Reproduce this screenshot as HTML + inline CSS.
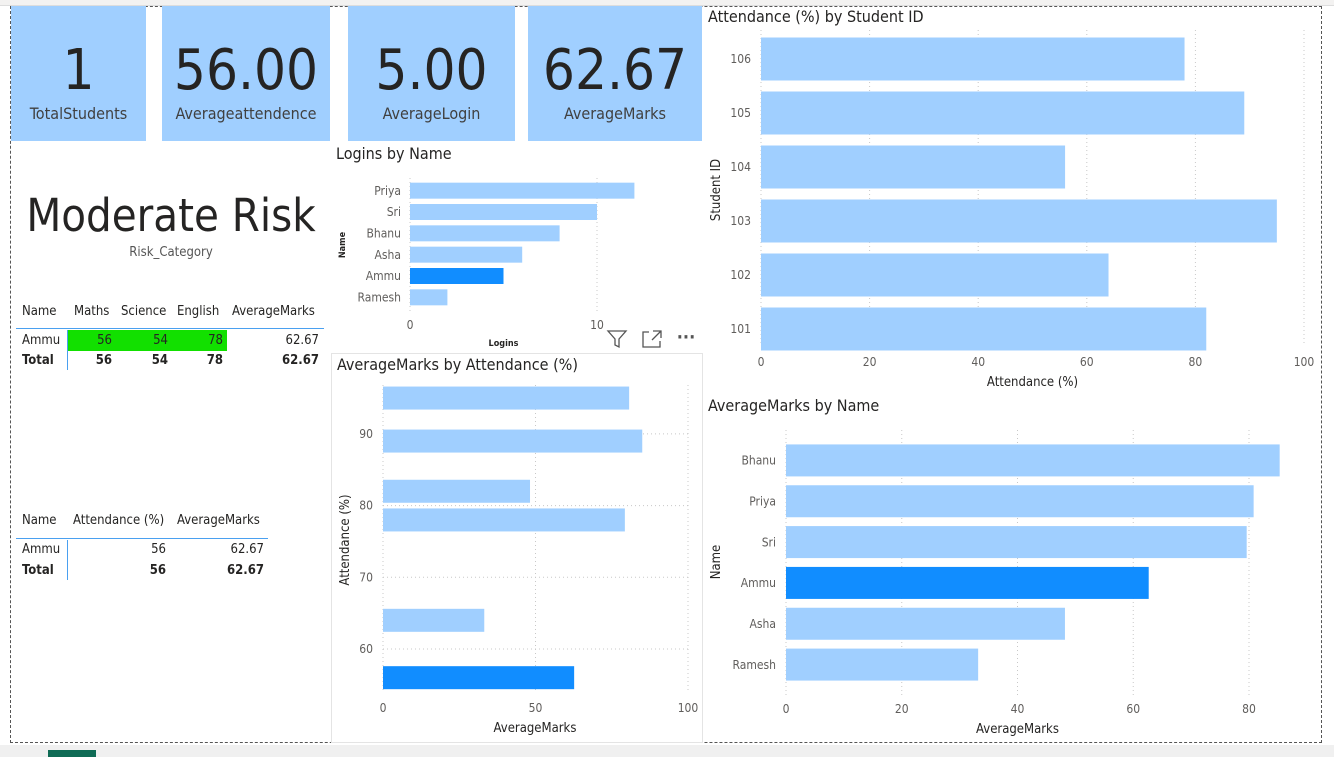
<!DOCTYPE html>
<html><head><meta charset="utf-8">
<style>
body{margin:0;width:1334px;height:757px;overflow:hidden;background:#fff;font-family:"DejaVu Sans Condensed","Liberation Sans Narrow","Liberation Sans",sans-serif;color:#252423;position:relative}
.abs{position:absolute}
.card{position:absolute;top:6px;height:135px;background:#a0cfff;text-align:center}
.card .num{position:absolute;left:0;right:0;top:33px;font-size:56px;line-height:64px;color:#252423;font-weight:500}
.card .lbl{position:absolute;left:0;right:0;top:98px;font-size:16px;color:#404040}
.t{position:absolute;font-size:13px;white-space:nowrap}
.r{text-align:right}
.b{font-weight:bold}
svg text{font-family:"DejaVu Sans Condensed","Liberation Sans Narrow","Liberation Sans",sans-serif}
</style></head><body>
<div class="abs" style="left:0;top:0;width:1334px;height:5px;background:#f3f2f1;border-bottom:1px solid #ddd"></div>
<div class="abs" style="left:10px;top:6px;width:1310px;height:735px;border:1px dashed #555"></div>
<div class="abs" style="left:0;top:745px;width:1334px;height:12px;background:#f0f0f0"></div>
<div class="abs" style="left:48px;top:750px;width:48px;height:7px;background:#0f6b55"></div>

<div class="card" style="left:11px;width:135px"><div class="num">1</div><div class="lbl">TotalStudents</div></div>
<div class="card" style="left:162px;width:168px"><div class="num">56.00</div><div class="lbl">Averageattendence</div></div>
<div class="card" style="left:348px;width:167px"><div class="num">5.00</div><div class="lbl">AverageLogin</div></div>
<div class="card" style="left:528px;width:174px"><div class="num">62.67</div><div class="lbl">AverageMarks</div></div>

<div class="abs" style="left:11px;width:320px;top:189px;text-align:center;font-size:45px;line-height:54px">Moderate Risk</div>
<div class="abs" style="left:11px;width:320px;top:245px;text-align:center;font-size:13px;color:#555">Risk_Category</div>

<div>
<div class="t" style="left:22px;top:304px">Name</div>
<div class="t" style="left:74px;top:304px">Maths</div>
<div class="t" style="left:121px;top:304px">Science</div>
<div class="t" style="left:177px;top:304px">English</div>
<div class="t" style="left:232px;top:304px">AverageMarks</div>
<div class="abs" style="left:16px;top:328px;width:308px;height:1px;background:#4aa0f0"></div>
<div class="abs" style="left:67px;top:330px;width:160px;height:21px;background:#12e000"></div>
<div class="abs" style="left:67px;top:330px;width:1px;height:40px;background:#4aa0f0"></div>
<div class="t" style="left:22px;top:333px">Ammu</div>
<div class="t r" style="left:67px;width:45px;top:333px">56</div>
<div class="t r" style="left:116px;width:52px;top:333px">54</div>
<div class="t r" style="left:172px;width:51px;top:333px">78</div>
<div class="t r" style="left:227px;width:92px;top:333px">62.67</div>
<div class="t b" style="left:22px;top:353px">Total</div>
<div class="t r b" style="left:67px;width:45px;top:353px">56</div>
<div class="t r b" style="left:116px;width:52px;top:353px">54</div>
<div class="t r b" style="left:172px;width:51px;top:353px">78</div>
<div class="t r b" style="left:227px;width:92px;top:353px">62.67</div>
</div>
<div>
<div class="t" style="left:22px;top:513px">Name</div>
<div class="t" style="left:73px;top:513px">Attendance (%)</div>
<div class="t" style="left:177px;top:513px">AverageMarks</div>
<div class="abs" style="left:16px;top:538px;width:252px;height:1px;background:#4aa0f0"></div>
<div class="abs" style="left:67px;top:540px;width:1px;height:40px;background:#4aa0f0"></div>
<div class="t" style="left:22px;top:542px">Ammu</div>
<div class="t r" style="left:67px;width:99px;top:542px">56</div>
<div class="t r" style="left:166px;width:98px;top:542px">62.67</div>
<div class="t b" style="left:22px;top:563px">Total</div>
<div class="t r b" style="left:67px;width:99px;top:563px">56</div>
<div class="t r b" style="left:166px;width:98px;top:563px">62.67</div>
</div>

<div class="abs" style="left:331px;top:353px;width:370px;height:388px;border:1px solid #e4e4e4"></div>

<svg id="s" class="abs" style="left:0;top:0" width="1334" height="757"></svg>

<script>
// Logins by Name
const loginNames=["Priya","Sri","Bhanu","Asha","Ammu","Ramesh"];
const loginValues=[12,10,8,6,5,2];
const loginTicks=[0,10];
// Attendance by Student ID
const studentIds=["106","105","104","103","102","101"];
const attendanceValues=[78,89,56,95,64,82];
const attendanceTicks=[0,20,40,60,80,100];
// AverageMarks by Attendance
const attCats=[95,89,82,78,64,56];
const attMarks=[80.7,85,48.2,79.3,33.2,62.67];
const attXTicks=[0,50,100];
const attYTicks=[60,70,80,90];
// AverageMarks by Name
const markNames=["Bhanu","Priya","Sri","Ammu","Asha","Ramesh"];
const markValues=[85.3,80.8,79.6,62.67,48.2,33.2];
const markTicks=[0,20,40,60,80];
const highlight="Ammu";

const S=document.getElementById('s');
const NS="http://www.w3.org/2000/svg";
function mk(tag,a,txt){const e=document.createElementNS(NS,tag);for(const k in a)e.setAttribute(k,a[k]);if(txt!==undefined)e.textContent=txt;S.appendChild(e);return e;}
const LIGHT="#a0cfff",DARK="#118dff",GRID="#c8c8c8",TXT="#605e5c";

function hbar(o){
  const x=v=>o.x0+(v-o.min)/(o.max-o.min)*(o.x1-o.x0);
  const t=mk('text',{x:o.tx,y:o.ty,'font-size':o.tfs,fill:'#252423'},o.title);
  
  
  o.ticks.forEach(v=>{
    const g=mk('line',{x1:x(v),x2:x(v),y1:o.gTop,y2:o.gBot,stroke:GRID,'stroke-dasharray':'1,3'});
    
    
    const l=mk('text',{x:x(v),y:o.tickY,'font-size':o.fs,fill:TXT,'text-anchor':'middle'},String(v));
    
    
  });
  const n=o.cats.length,band=(o.yBot-o.yTop)/n;
  o.cats.forEach((c,i)=>{
    const cy=o.yTop+band*(i+0.5);
    const r=mk('rect',{x:x(0),y:cy-o.bh/2,width:Math.max(0,x(o.vals[i])-x(0)),height:o.bh,fill:(c===highlight?DARK:LIGHT)});
    
    
    const l=mk('text',{x:o.lx,y:cy+o.fs*0.35,'font-size':o.fs,fill:TXT,'text-anchor':'end'},c);
    
    
  });
  const xt=mk('text',{x:(o.x0+o.x1)/2,y:o.xtY,'font-size':o.afs,fill:'#252423','text-anchor':'middle','font-weight':o.bold?'bold':'normal'},o.xTitle);
  
  
  const yt=mk('text',{x:o.ytX,y:o.ytY,'font-size':o.afs,fill:'#252423','text-anchor':'middle','font-weight':o.bold?'bold':'normal',transform:`rotate(-90 ${o.ytX} ${o.ytY})`},o.yTitle);
  
  
}

hbar({name:'logins-chart',title:'Logins by Name',tx:336,ty:159,tfs:16,cats:loginNames,vals:loginValues,ticks:loginTicks,min:0,max:10,x0:410,x1:597,
  gTop:178,gBot:314,yTop:180,yBot:308,bh:16,lx:401,fs:12,tickY:329,xTitle:'Logins',xtY:346,yTitle:'Name',ytX:345,ytY:245,afs:9,bold:true});
hbar({name:'attendance-by-id-chart',title:'Attendance (%) by Student ID',tx:708,ty:22,tfs:16,cats:studentIds,vals:attendanceValues,ticks:attendanceTicks,min:0,max:100,x0:761,x1:1304,
  gTop:30,gBot:346,yTop:32,yBot:356,bh:43,lx:751,fs:12,tickY:366,xTitle:'Attendance (%)',xtY:386,yTitle:'Student ID',ytX:720,ytY:190,afs:13,bold:false});
hbar({name:'marks-by-name-chart',title:'AverageMarks by Name',tx:708,ty:411,tfs:16,cats:markNames,vals:markValues,ticks:markTicks,min:0,max:80,x0:786,x1:1249,
  gTop:430,gBot:696,yTop:440,yBot:685,bh:32,lx:776,fs:12,tickY:713,xTitle:'AverageMarks',xtY:733,yTitle:'Name',ytX:720,ytY:562,afs:13,bold:false});

(function(){
  const x=v=>383+v/100*305, y=v=>649-(v-60)*7.17;
  const t=mk('text',{x:337,y:370,'font-size':16,fill:'#252423'},'AverageMarks by Attendance (%)');
  
  
  attYTicks.forEach(v=>{
    const g=mk('line',{x1:383,x2:688,y1:y(v),y2:y(v),stroke:GRID,'stroke-dasharray':'1,3'});
    
    
    const l=mk('text',{x:373,y:y(v)+4,'font-size':12,fill:TXT,'text-anchor':'end'},String(v));
    
    
  });
  attXTicks.forEach(v=>{
    const g=mk('line',{x1:x(v),x2:x(v),y1:385,y2:690,stroke:GRID,'stroke-dasharray':'1,3'});
    
    
    const l=mk('text',{x:x(v),y:712,'font-size':12,fill:TXT,'text-anchor':'middle'},String(v));
    
    
  });
  attCats.forEach((c,i)=>{
    const r=mk('rect',{x:x(0),y:y(c)-11.5,width:x(attMarks[i])-x(0),height:23,fill:(c===56?DARK:LIGHT)});
    
    
  });
  const xt=mk('text',{x:535,y:732,'font-size':13,fill:'#252423','text-anchor':'middle'},'AverageMarks');
  
  
  const yt=mk('text',{x:349,y:540,'font-size':13,fill:'#252423','text-anchor':'middle',transform:'rotate(-90 349 540)'},'Attendance (%)');
  
  
})();

const f=mk('path',{d:'M608 331 L626 331 L619 339 L619 347 L615 345 L615 339 Z',fill:'none',stroke:'#555','stroke-width':1.3});


const fo=mk('path',{d:'M649 332 L643 332 L643 347 L660 347 L660 341 M653 331 L661 331 L661 338 M661 331 L652 340',fill:'none',stroke:'#555','stroke-width':1.3});


const mo=mk('text',{x:686,y:343,'font-size':18,'font-weight':'bold',fill:'#555','text-anchor':'middle'},'···');


</script>
</body></html>
